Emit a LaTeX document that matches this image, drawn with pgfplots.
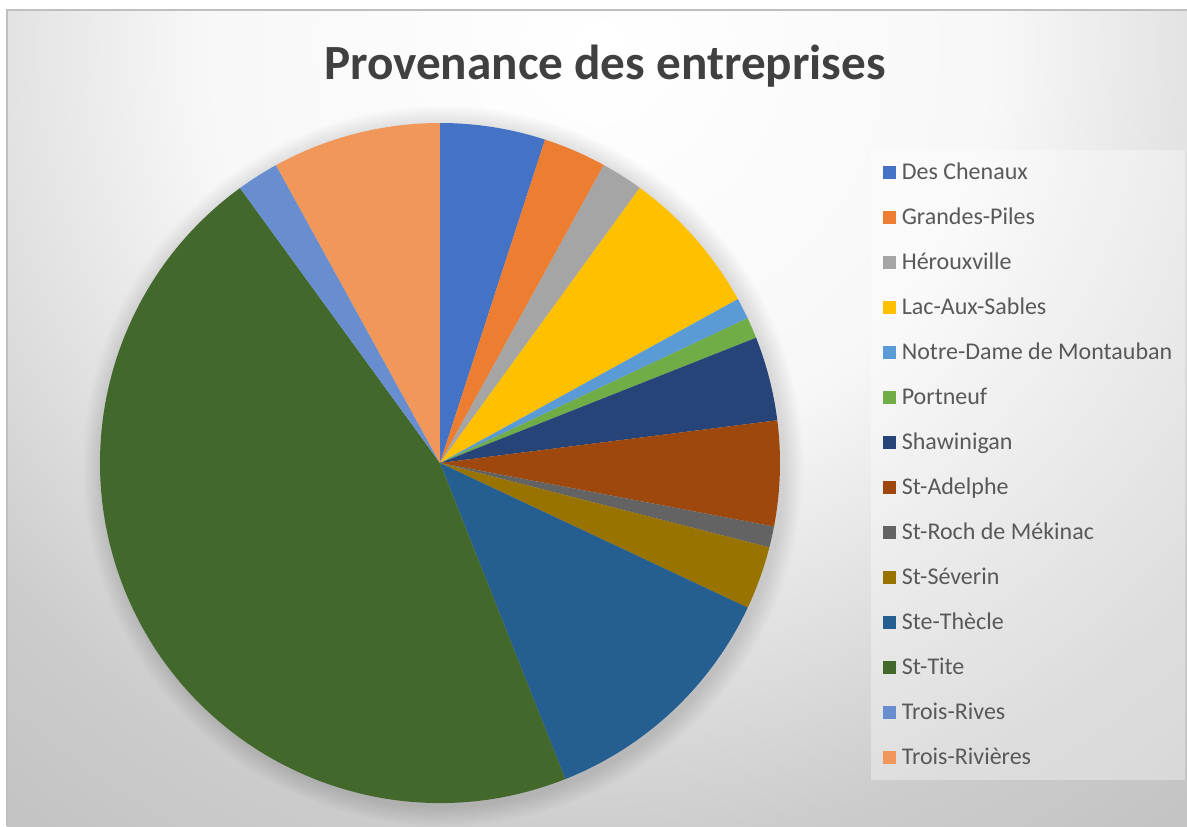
\documentclass[border=0pt]{standalone}
\usepackage{fontspec}
\setmainfont{Carlito}
\usepackage{pgfplots}
\usepackage{pgfplotstable}
\pgfplotsset{compat=1.18}

% couleurs du theme Office
\definecolor{c0}{HTML}{4472C4}
\definecolor{c1}{HTML}{ED7D31}
\definecolor{c2}{HTML}{A5A5A5}
\definecolor{c3}{HTML}{FFC000}
\definecolor{c4}{HTML}{5B9BD5}
\definecolor{c5}{HTML}{70AD47}
\definecolor{c6}{HTML}{264478}
\definecolor{c7}{HTML}{9E480E}
\definecolor{c8}{HTML}{636363}
\definecolor{c9}{HTML}{997300}
\definecolor{c10}{HTML}{255E91}
\definecolor{c11}{HTML}{43682B}
\definecolor{c12}{HTML}{698ED0}
\definecolor{c13}{HTML}{F1975A}
\definecolor{titlegray}{HTML}{404040}
\definecolor{textgray}{HTML}{595959}

\pgfdeclareradialshading{bgshade}{\pgfpoint{0bp}{0bp}}{%
  color(0bp)=(white); color(10bp)=(white!97!black); color(20bp)=(black!20);
  color(25bp)=(black!24); color(50bp)=(black!26)}

\pgfplotstableread[col sep=comma]{
ville,n
Des Chenaux,5
Grandes-Piles,3
Hérouxville,2
Lac-Aux-Sables,7
Notre-Dame de Montauban,1
Portneuf,1
Shawinigan,4
St-Adelphe,5
St-Roch de Mékinac,1
St-Séverin,3
Ste-Thècle,12
St-Tite,46
Trois-Rives,2
Trois-Rivières,8
}\villes

% total des entreprises
\pgfplotstablegetrowsof{\villes}
\pgfmathtruncatemacro\nlast{\pgfplotsretval-1}
\def\total{0}
\pgfplotsforeachungrouped \i in {0,...,\nlast}{%
  \pgfplotstablegetelem{\i}{n}\of\villes
  \pgfmathsetmacro\total{\total+\pgfplotsretval}}

\begin{document}
\begin{tikzpicture}
\begin{axis}[
    name=ax,
    x=0.5pt, y=0.5pt,
    xmin=0, xmax=1187, ymin=0, ymax=826,
    enlargelimits=false,
    hide axis, ticks=none,
    legend image code/.code={\fill[#1] (0pt,-3pt) rectangle (6pt,3pt);},
    legend cell align=left,
    legend style={at={(axis description cs:0.7439,0.8046)}, anchor=north west,
      draw=none, fill=none, inner sep=0pt, outer sep=0pt,
      row sep=11.9pt, column sep=3pt,
      font=\fontsize{12}{13}\selectfont, text=textgray,
      nodes={inner sep=0pt, text height=9pt, text depth=1.6pt}},
  ]
  % fond
  \fill[white] (axis cs:0,0) rectangle (axis cs:1187,826);
  \pgfplotsextra{
    \begin{scope}
      \clip (axis cs:7,0) rectangle (axis cs:1187,816);
      \shade[overlay, shading=bgshade] (axis cs:-400,-220) rectangle (axis cs:1600,1780);
    \end{scope}
    \draw[black!25, line width=0.8pt] (axis cs:7,0) -- (axis cs:7,816) -- (axis cs:1187,816);
    % cadre de la legende
    \fill[white, opacity=0.35] (axis cs:871,46) rectangle (axis cs:1185,676);
    % ombre du disque
    \foreach \k in {1,...,10}
      \fill[black, opacity=0.012] (axis cs:443,360) circle[radius=170pt+\k pt];
  }
  % secteurs
  \def\startang{90}
  \pgfplotsforeachungrouped \i in {0,...,\nlast}{%
    \pgfplotstablegetelem{\i}{n}\of\villes
    \pgfmathsetmacro\endang{\startang-\pgfplotsretval/\total*360}
    \edef\slice{\noexpand\fill[c\i] (axis cs:440,363) -- ++(\startang:170pt)
      arc[start angle=\startang, end angle=\endang, radius=170pt] -- cycle;}
    \slice
    \let\startang\endang
  }
  % legende
  \pgfplotsforeachungrouped \i in {0,...,\nlast}{%
    \pgfplotstablegetelem{\i}{ville}\of\villes
    \edef\entry{\noexpand\addlegendimage{c\i}\noexpand\addlegendentry{\pgfplotsretval}}
    \entry
  }
  \node[anchor=base, font=\bfseries\fontsize{24.6}{30}\selectfont, text=titlegray]
    at (axis cs:605,746) {Provenance des entreprises};
\end{axis}
\pgfresetboundingbox
\useasboundingbox (ax.south west) rectangle (ax.north east);
\end{tikzpicture}
\end{document}
